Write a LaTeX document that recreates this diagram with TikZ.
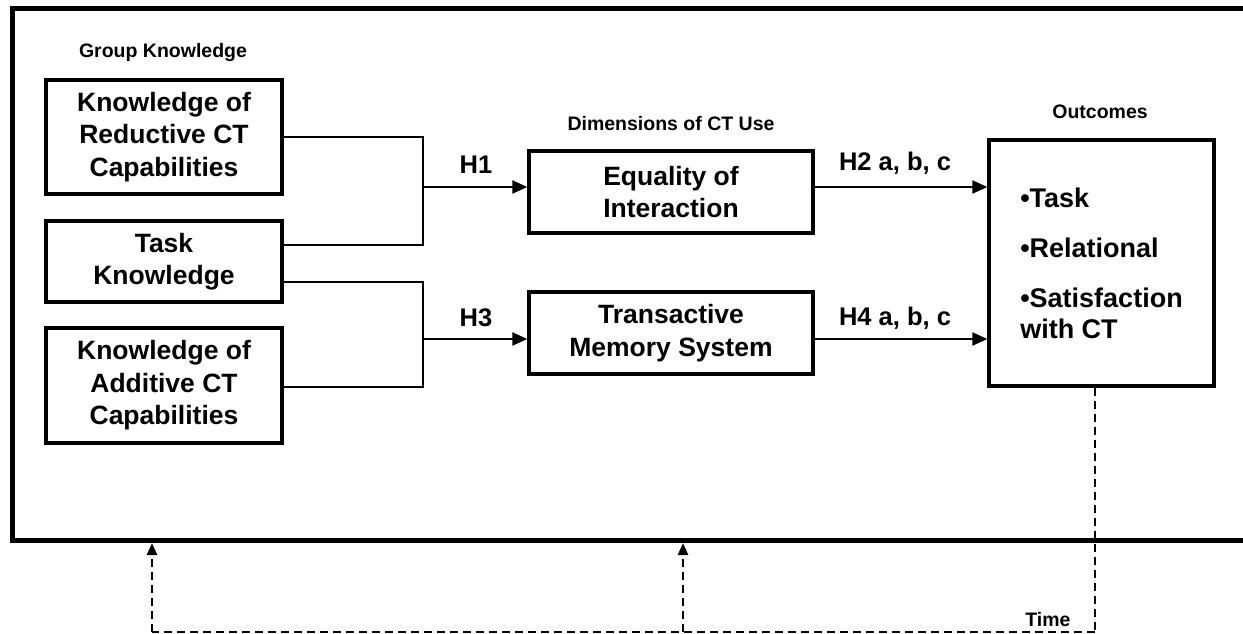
\documentclass[tikz,border=0pt]{standalone}
\usepackage{fontspec}
\setmainfont{Liberation Sans}
\usetikzlibrary{arrows.meta}
\begin{document}
\begin{tikzpicture}[x=1pt,y=-1pt,
  box/.style={draw,line width=3.3pt,align=center,inner sep=0pt,font=\fontsize{26.5}{32.5}\selectfont\bfseries},
  lab/.style={font=\fontsize{19.5}{22}\selectfont\bfseries,inner sep=0pt},
  hyp/.style={font=\fontsize{25.5}{28}\selectfont\bfseries,inner sep=0pt},
  conn/.style={line width=2.2pt},
  arr/.style={line width=2.2pt,-{Triangle[length=15pt,width=13pt]}},
  dashline/.style={line width=2.4pt,dash pattern=on 8pt off 5pt},
  darr/.style={line width=2.4pt,dash pattern=on 8pt off 5pt,-{Triangle[length=12pt,width=10pt]}}
]
\useasboundingbox (0,0) rectangle (1243,634);
% frame
\draw[line width=5pt] (1243,9) -- (12,9) -- (12,540) -- (1243,540);
\coordinate (f1) at (152,543);
\coordinate (f2) at (683,543);

% labels
\node[lab] (lgk) at (163,53) {Group Knowledge};
\node[lab] (ldim) at (671,124) {Dimensions of CT Use};
\node[lab] (lout) at (1100,112) {Outcomes};

% left boxes
\node[box,minimum width=236pt,minimum height=114pt] (b1) at (164,137) {Knowledge of\\Reductive CT\\Capabilities};
\node[box,minimum width=236pt,minimum height=81pt] (b2) at (164,261.5) {Task\\Knowledge};
\node[box,minimum width=236pt,minimum height=115pt] (b3) at (164,385.5) {Knowledge of\\Additive CT\\Capabilities};

% middle boxes
\node[box,minimum width=284pt,minimum height=82pt] (eq) at (671,192) {Equality of\\Interaction};
\node[box,minimum width=284pt,minimum height=82pt] (tms) at (671,333) {Transactive\\Memory System};

% outcomes
\node[draw,line width=3.3pt,minimum width=225pt,minimum height=246pt,align=left,inner sep=0pt,font=\fontsize{27}{31}\selectfont\bfseries] (out) at (1101.5,263) {•Task\\[19pt]•Relational\\[19pt]•Satisfaction\\with CT};

% brackets
\coordinate (j1a) at (423,137);
\coordinate (j1b) at (423,245);
\coordinate (m1) at (423,187);
\coordinate (j2a) at (423,282);
\coordinate (j2b) at (423,387);
\coordinate (m2) at (423,339);
\draw[conn] (b1.east) -- (j1a) -- (j1b) -- (j1b -| b2.east);
\draw[conn] (j2a -| b2.east) -- (j2a) -- (j2b) -- (j2b -| b3.east);
\draw[arr] (m1) -- (m1 -| eq.west);
\draw[arr] (m2) -- (m2 -| tms.west);
\draw[arr] (m1 -| eq.east) -- (m1 -| out.west);
\draw[arr] (m2 -| tms.east) -- (m2 -| out.west);

% hypothesis labels
\node[hyp] (h1) at (476,165) {H1};
\node[hyp] (h3) at (476,318) {H3};
\node[hyp] (h2) at (895,163) {H2 a, b, c};
\node[hyp] (h4) at (895,318) {H4 a, b, c};

% time loop
\coordinate (d0) at (1095,632);
\coordinate (d1) at (152,632);
\coordinate (d2) at (683,632);
\draw[dashline] (out.south -| d0) -- (d0);
\draw[line width=1.5pt,dash pattern=on 8pt off 5pt] (d0) -- (d1);
\draw[darr] (d1) -- (f1);
\draw[darr] (d2) -- (f2);
\node[lab] (time) at (1048,620) {Time};
\end{tikzpicture}
\end{document}
